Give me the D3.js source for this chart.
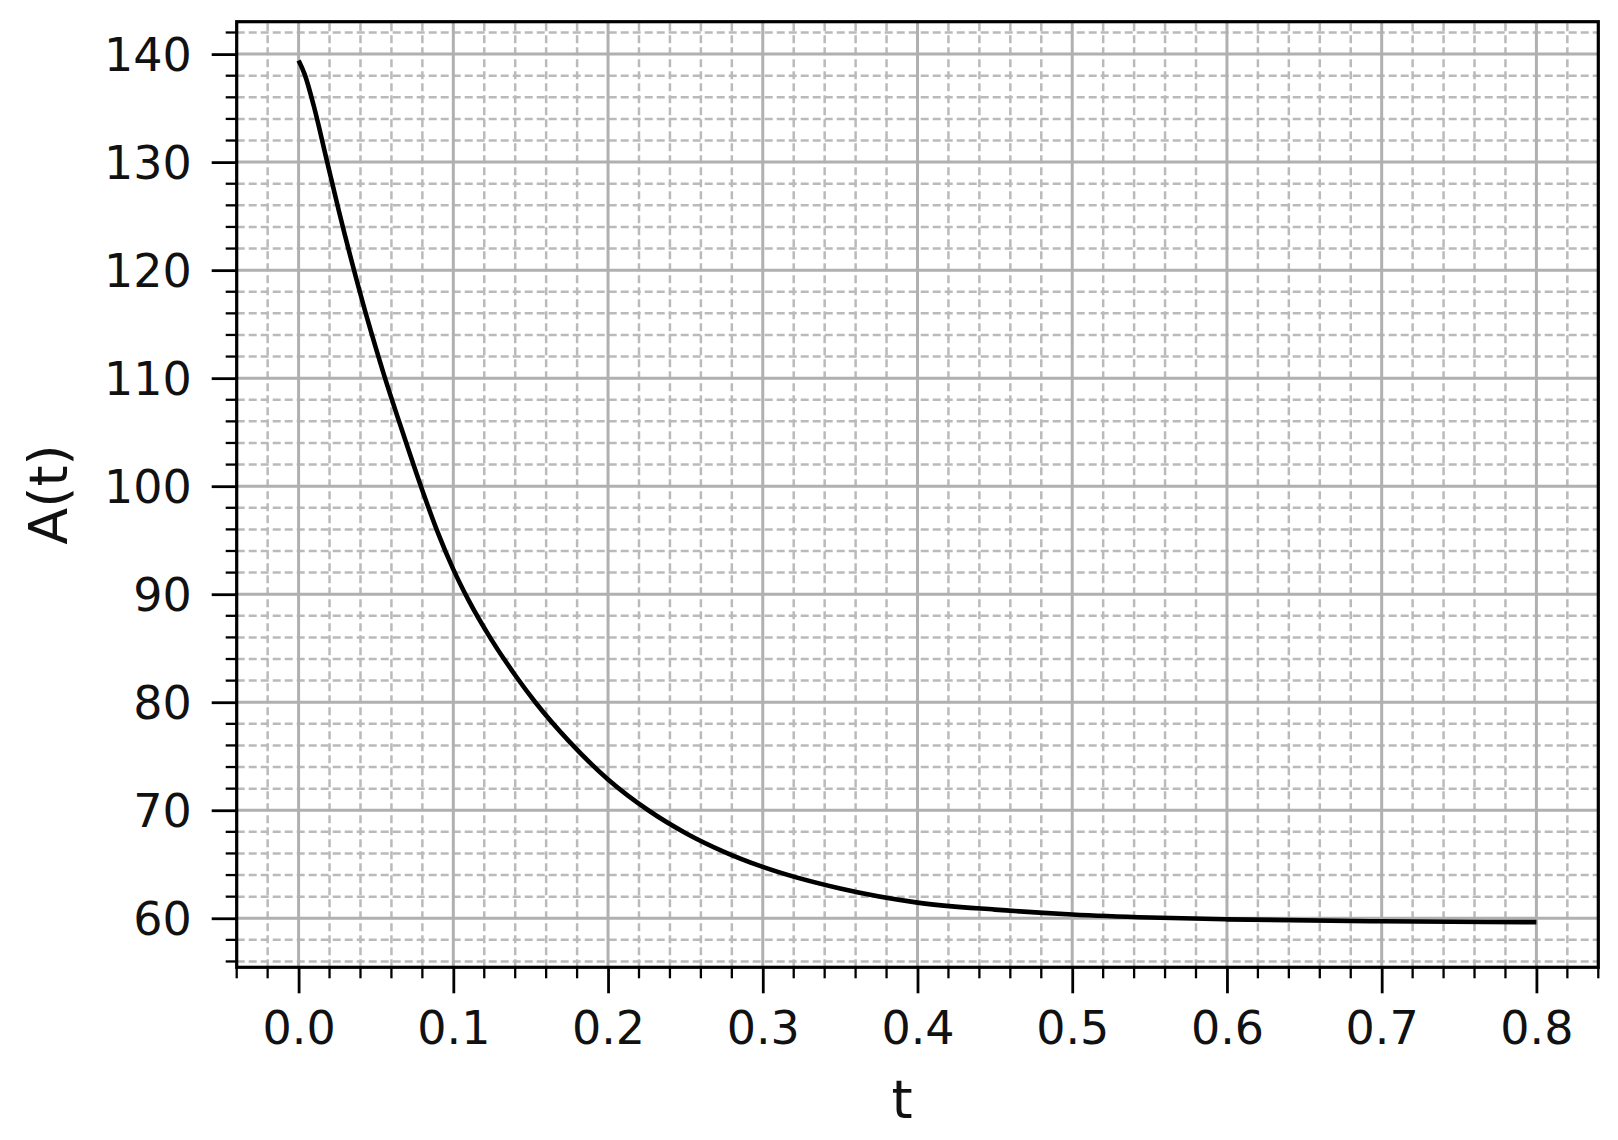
<!DOCTYPE html>
<html>
<head>
<meta charset="utf-8">
<script src="https://cdn.jsdelivr.net/npm/d3@7/dist/d3.min.js"></script>
<style>
  body { margin: 0; background: #fff; }
  svg { display: block; font-family: "DejaVu Sans", sans-serif; }
</style>
</head>
<body>
<svg id="chart" width="1618" height="1140"></svg>
<script>
// values
const T_VALUES = [0.000, 0.004, 0.010, 0.018, 0.026, 0.036, 0.045, 0.055, 0.067, 0.080,
                  0.090, 0.100, 0.110, 0.125, 0.140, 0.153, 0.175, 0.200, 0.226, 0.250,
                  0.275, 0.300, 0.350, 0.400, 0.450, 0.500, 0.550, 0.600, 0.700, 0.800];
const A_VALUES = [139.4, 138.1, 135.1, 130.3, 125.5, 119.9, 115.2, 110.4, 105.1, 99.6,
                  95.7, 92.3, 89.4, 85.7, 82.5, 80.0, 76.35, 72.85, 70.0, 67.9,
                  66.15, 64.75, 62.75, 61.45, 60.8, 60.35, 60.07, 59.9, 59.72, 59.64];

const X_MAJOR = [0, 0.1, 0.2, 0.3, 0.4, 0.5, 0.6, 0.7, 0.8];
const X_TICK_LABELS = ['0.0', '0.1', '0.2', '0.3', '0.4', '0.5', '0.6', '0.7', '0.8'];
const Y_MAJOR = [60, 70, 80, 90, 100, 110, 120, 130, 140];
const Y_TICK_LABELS = ['60', '70', '80', '90', '100', '110', '120', '130', '140'];
const X_LABEL = 't';
const Y_LABEL = 'A(t)';

const X_DOMAIN = [-0.04, 0.84];
const Y_DOMAIN = [55.46, 143.0];
const X_MINOR_STEP = 0.02;
const Y_MINOR_STEP = 2;

const PLOT = { left: 236.7, right: 1598.3, top: 21.7, bottom: 967.3 };
const GRID_MAJOR = '#b0b0b0';
const GRID_MINOR = '#bababa';
const TICK_FONT = 46;
const LABEL_FONT = 54;

const svg = d3.select('#chart');
const xScale = d3.scaleLinear().domain(X_DOMAIN).range([PLOT.left, PLOT.right]);
const yScale = d3.scaleLinear().domain(Y_DOMAIN).range([PLOT.bottom, PLOT.top]);

// minor positions, skipping the ones that sit on a major tick
const near = (v, arr) => arr.some(m => Math.abs(m - v) < 1e-6);
const xMinor = d3.range(X_DOMAIN[0], X_DOMAIN[1] + 1e-9, X_MINOR_STEP)
  .map(v => Math.round(v * 100) / 100)
  .filter(v => !near(v, X_MAJOR));
const yMinor = d3.range(56, Y_DOMAIN[1], Y_MINOR_STEP).filter(v => !near(v, Y_MAJOR));

const gGrid = svg.append('g').attr('class', 'grid');
const gLine = svg.append('g').attr('class', 'line');
const gAxes = svg.append('g').attr('class', 'axes');

// --- grid ---
gGrid.selectAll('line.vmin').data(xMinor).enter().append('line')
  .attr('x1', d => xScale(d)).attr('x2', d => xScale(d))
  .attr('y1', PLOT.bottom).attr('y2', PLOT.top)
  .attr('stroke', GRID_MINOR).attr('stroke-width', 2.5)
  .attr('stroke-dasharray', '8,4');
gGrid.selectAll('line.hmin').data(yMinor).enter().append('line')
  .attr('x1', PLOT.left).attr('x2', PLOT.right)
  .attr('y1', d => yScale(d)).attr('y2', d => yScale(d))
  .attr('stroke', GRID_MINOR).attr('stroke-width', 2.5)
  .attr('stroke-dasharray', '8,4');
gGrid.selectAll('line.vmaj').data(X_MAJOR).enter().append('line')
  .attr('x1', d => xScale(d)).attr('x2', d => xScale(d))
  .attr('y1', PLOT.bottom).attr('y2', PLOT.top)
  .attr('stroke', GRID_MAJOR).attr('stroke-width', 3);
gGrid.selectAll('line.hmaj').data(Y_MAJOR).enter().append('line')
  .attr('x1', PLOT.left).attr('x2', PLOT.right)
  .attr('y1', d => yScale(d)).attr('y2', d => yScale(d))
  .attr('stroke', GRID_MAJOR).attr('stroke-width', 3);

// --- curve ---
const points = T_VALUES.map((t, i) => [t, A_VALUES[i]]);
const line = d3.line()
  .x(d => xScale(d[0]))
  .y(d => yScale(d[1]))
  .curve(d3.curveMonotoneX);
gLine.append('path')
  .attr('d', line(points))
  .attr('fill', 'none')
  .attr('stroke', '#000')
  .attr('stroke-width', 4.6)
  .attr('stroke-linejoin', 'round');

// --- axes ---
const xAxis = d3.axisBottom(xScale)
  .tickValues(X_MAJOR)
  .tickFormat((d, i) => X_TICK_LABELS[i])
  .tickSize(26).tickPadding(18);
const yAxis = d3.axisLeft(yScale)
  .tickValues(Y_MAJOR)
  .tickFormat((d, i) => Y_TICK_LABELS[i])
  .tickSize(25).tickPadding(20);

const gx = gAxes.append('g').attr('transform', `translate(0,${PLOT.bottom})`).call(xAxis);
const gy = gAxes.append('g').attr('transform', `translate(${PLOT.left},0)`).call(yAxis);
[gx, gy].forEach(g => {
  g.select('.domain').remove();
  g.selectAll('.tick line').attr('stroke', '#000').attr('stroke-width', 2.8);
  g.selectAll('.tick text')
    .attr('fill', '#111')
    .style('font-size', TICK_FONT + 'px')
    .style('font-family', '"DejaVu Sans", sans-serif');
});
gx.selectAll('.tick text').attr('dy', null).attr('y', 77);
gy.selectAll('.tick text').attr('dy', '0.36em');

// minor ticks
gAxes.selectAll('line.xminor').data(xMinor).enter().append('line')
  .attr('x1', d => xScale(d)).attr('x2', d => xScale(d))
  .attr('y1', PLOT.bottom).attr('y2', PLOT.bottom + 11)
  .attr('stroke', '#000').attr('stroke-width', 2.3);
gAxes.selectAll('line.yminor').data(yMinor).enter().append('line')
  .attr('x1', PLOT.left - 11).attr('x2', PLOT.left)
  .attr('y1', d => yScale(d)).attr('y2', d => yScale(d))
  .attr('stroke', '#000').attr('stroke-width', 2.3);

// spines
gAxes.append('rect')
  .attr('x', PLOT.left).attr('y', PLOT.top)
  .attr('width', PLOT.right - PLOT.left).attr('height', PLOT.bottom - PLOT.top)
  .attr('fill', 'none').attr('stroke', '#000').attr('stroke-width', 3.2);

// axis labels
svg.append('text')
  .attr('x', 902).attr('y', 1118)
  .attr('text-anchor', 'middle')
  .style('font-size', LABEL_FONT + 'px').attr('fill', '#111')
  .text(X_LABEL);
svg.append('text')
  .attr('transform', `translate(67,${(PLOT.top + PLOT.bottom) / 2}) rotate(-90)`)
  .attr('text-anchor', 'middle')
  .style('font-size', LABEL_FONT + 'px').attr('fill', '#111')
  .text(Y_LABEL);
</script>
</body>
</html>
